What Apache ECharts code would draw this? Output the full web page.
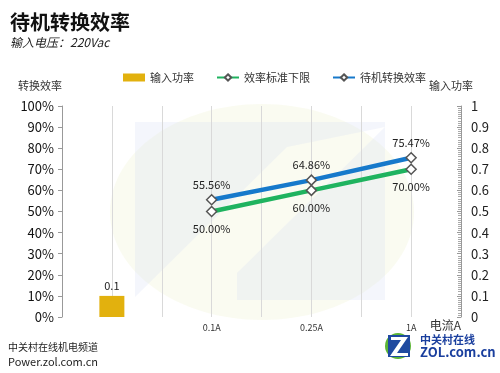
<!DOCTYPE html>
<html>
<head>
<meta charset="utf-8">
<script src="https://cdn.jsdelivr.net/npm/echarts@6/dist/echarts.min.js"></script>
<style>html,body{margin:0;padding:0;background:#fff;}#c{width:500px;height:373px;}</style>
</head>
<body>
<div id="c"></div>
<script>
const categories = ['', '', '', '0.1A', '', '0.25A', '', '1A', ''];
const inputPower = [null, 0.1, null, null, null, null, null, null, null];
const standardLimit = [null, null, null, 50.00, null, 60.00, null, 70.00, null];
const standbyEff = [null, null, null, 55.56, null, 64.86, null, 75.47, null];
const leftTicks = {min: 0, max: 100, interval: 10};
const rightTicks = {min: 0, max: 1, interval: 0.1};

const FONT = '"Noto Sans CJK SC", "Noto Sans", sans-serif';
const chart = echarts.init(document.getElementById('c'), null, {renderer: 'canvas'});
const pctFmt = p => p.value.toFixed(2) + '%';
chart.setOption({
  animation: false,
  backgroundColor: '#ffffff',
  textStyle: {fontFamily: FONT},
  grid: {left: 62, right: 39, top: 106, bottom: 56},
  graphic: [
    {type: 'ellipse', silent: true, z: -100, shape: {cx: 262, cy: 212, rx: 152, ry: 108}, style: {fill: 'rgba(236,240,205,0.28)'}},
    {type: 'polygon', silent: true, z: -99, shape: {points: [[135,122],[385,122],[385,127],[287,147],[135,297]]}, style: {fill: 'rgba(210,218,242,0.25)'}},
    {type: 'polygon', silent: true, z: -99, shape: {points: [[385,127],[385,300],[237,300],[237,273]]}, style: {fill: 'rgba(210,218,242,0.25)'}},
    {type: 'text', left: 10, top: 12, style: {text: '待机转换效率', font: 'bold 20px ' + FONT, fill: '#111'}},
    {type: 'text', left: 10, top: 36, style: {text: '输入电压：220Vac', font: 'italic 12px ' + FONT, fill: '#222'}},
    {type: 'text', left: 8, top: 342, style: {text: '中关村在线机电频道', font: '10px ' + FONT, fill: '#222'}},
    {type: 'text', left: 8, top: 356, style: {text: 'Power.zol.com.cn', font: '11px ' + FONT, fill: '#222'}},
    {type: 'circle', silent: true, shape: {cx: 398, cy: 346, r: 13}, style: {fill: '#5cb536'}},
    {type: 'rect', silent: true, shape: {x: 388, y: 335, width: 22, height: 22}, style: {fill: '#1f4aa0'}},
    {type: 'polygon', silent: true, shape: {points: [[391,337],[408,337],[397,353],[408,353],[408,356],[390,356],[401,340],[391,340]]}, style: {fill: '#ffffff'}},
    {type: 'text', left: 420, top: 334, style: {text: '中关村在线', font: 'bold 11px ' + FONT, fill: '#1a3f9e'}},
    {type: 'text', left: 420, top: 346, style: {text: 'ZOL.com.cn', font: 'bold 13px ' + FONT, fill: '#1a3f9e'}}
  ],
  legend: {
    left: 118, top: 67, itemGap: 22, itemWidth: 22, itemHeight: 8,
    textStyle: {fontSize: 11, color: '#333', fontFamily: FONT},
    data: [{name: '输入功率', icon: 'rect'}, {name: '效率标准下限'}, {name: '待机转换效率'}]
  },
  xAxis: {
    type: 'category', data: categories, boundaryGap: false,
    name: '电流A', nameLocation: 'end', nameGap: 0,
    nameTextStyle: {align: 'right', verticalAlign: 'top', padding: [2, 0, 0, 0], fontSize: 12, color: '#333'},
    axisLine: {show: false}, axisTick: {show: false},
    axisLabel: {interval: 0, fontSize: 9, color: '#333', margin: 6},
    splitLine: {show: true, interval: 0, lineStyle: {color: '#d9d9d9', width: 1}}
  },
  yAxis: [
    {
      type: 'value', min: leftTicks.min, max: leftTicks.max, interval: leftTicks.interval,
      name: '转换效率', nameLocation: 'end', nameGap: 15,
      nameTextStyle: {align: 'right', fontSize: 11, color: '#333'},
      axisLine: {show: true, lineStyle: {color: '#999'}},
      axisTick: {show: true, length: 4, lineStyle: {color: '#999'}},
      axisLabel: {formatter: '{value}%', fontSize: 13, color: '#111', margin: 8},
      splitLine: {show: false}
    },
    {
      type: 'value', min: rightTicks.min, max: rightTicks.max, interval: rightTicks.interval,
      name: '输入功率', nameLocation: 'end', nameGap: 15,
      nameTextStyle: {align: 'center', fontSize: 11, color: '#333', padding: [0, 0, 0, -20]},
      axisLine: {show: true, lineStyle: {color: '#999'}},
      axisTick: {show: true, inside: true, length: 4, lineStyle: {color: '#999'}},
      minorTick: {show: true, splitNumber: 10, length: 3, lineStyle: {color: '#aaa'}},
      axisLabel: {fontSize: 13, color: '#222', margin: 10},
      splitLine: {show: false}
    }
  ],
  series: [
    {
      name: '输入功率', type: 'bar', yAxisIndex: 1, data: inputPower, barWidth: 25,
      itemStyle: {color: '#e2b10e'},
      label: {show: true, position: 'top', fontSize: 11, color: '#222', distance: 5}
    },
    {
      name: '效率标准下限', type: 'line', yAxisIndex: 0, data: standardLimit, connectNulls: true,
      lineStyle: {color: '#1fb35f', width: 4.5}, itemStyle: {color: '#ffffff', borderColor: '#555', borderWidth: 1.5},
      color: '#1fb35f',
      symbol: 'diamond', symbolSize: 10, z: 3,
      label: {show: true, position: 'bottom', distance: 6, formatter: pctFmt, fontSize: 11, color: '#222'}
    },
    {
      name: '待机转换效率', type: 'line', yAxisIndex: 0, data: standbyEff, connectNulls: true,
      lineStyle: {color: '#1679cb', width: 4.5}, itemStyle: {color: '#ffffff', borderColor: '#555', borderWidth: 1.5},
      color: '#1679cb',
      symbol: 'diamond', symbolSize: 10, z: 4,
      label: {show: true, position: 'top', distance: 4, formatter: pctFmt, fontSize: 11, color: '#222'}
    }
  ]
});
</script>
</body>
</html>
